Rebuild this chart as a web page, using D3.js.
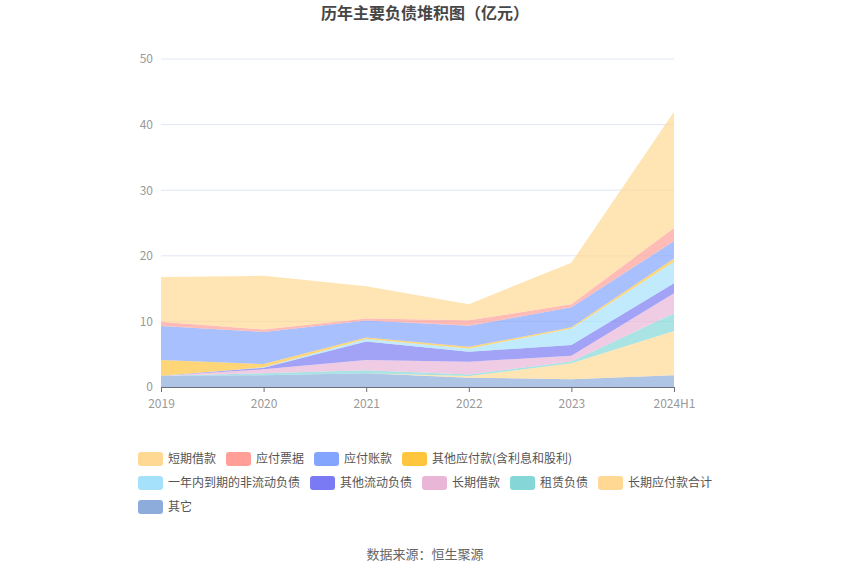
<!DOCTYPE html>
<html>
<head>
<meta charset="utf-8">
<script src="https://cdn.jsdelivr.net/npm/d3@7"></script>
<style>
    body { margin: 0; background: #fff; }
    text { font-family: "Noto Sans CJK SC", "Noto Sans", sans-serif; }
</style>
</head>
<body>
<svg id="chart"></svg>
<script>
// values (亿元)
const years = ["2019", "2020", "2021", "2022", "2023", "2024H1"];
const yTicks = [0, 10, 20, 30, 40, 50];

// legend order (top of stack first)
const seriesNames = ["短期借款", "应付票据", "应付账款", "其他应付款(含利息和股利)",
    "一年内到期的非流动负债", "其他流动负债", "长期借款", "租赁负债", "长期应付款合计", "其它"];
const seriesColors = ["#ffd894", "#ff9f97", "#84a5fd", "#ffc53d",
    "#a6e1fb", "#7a7bf4", "#e9b6d8", "#85d7d7", "#ffd894", "#8dacdb"];

const shortLoan     = [6.8, 8.2, 4.9, 2.45, 6.35, 17.7];
const notesPayable  = [0.65, 0.35, 0.3, 0.85, 0.45, 2.0];
const accPayable    = [5.2, 4.9, 2.6, 3.2, 3.05, 2.65];
const otherPayable  = [2.4, 0.5, 0.25, 0.25, 0.2, 0.5];
const dueInOneYear  = [0, 0.05, 0.35, 0.5, 2.5, 3.3];
const otherCurrent  = [0, 0.25, 2.85, 1.52, 1.63, 1.52];
const longLoan      = [0, 0.6, 1.55, 1.93, 0.9, 3.05];
const leaseLiab     = [0, 0.3, 0.45, 0.25, 0.25, 2.7];
const longPayable   = [0, 0, 0, 0.25, 2.45, 6.75];
const others        = [1.7, 1.8, 2.1, 1.42, 1.17, 1.78];

const seriesValues = [shortLoan, notesPayable, accPayable, otherPayable, dueInOneYear,
    otherCurrent, longLoan, leaseLiab, longPayable, others];

class StackedArea {
    margin = { top: 59, right: 176, bottom: 188, left: 161 }

    constructor(svg, width = 850, height = 575) {
        this.svg = svg;
        this.width = width;
        this.height = height;
    }

    initialize() {
        this.svg = d3.select(this.svg)
            .attr("width", this.width)
            .attr("height", this.height);
        this.innerW = this.width - this.margin.left - this.margin.right;
        this.innerH = this.height - this.margin.top - this.margin.bottom;

        this.grid = this.svg.append("g").attr("transform", `translate(${this.margin.left}, ${this.margin.top})`);
        this.container = this.svg.append("g").attr("transform", `translate(${this.margin.left}, ${this.margin.top})`);
        this.xAxis = this.svg.append("g").attr("transform", `translate(${this.margin.left}, ${this.margin.top + this.innerH})`);
        this.yAxis = this.svg.append("g").attr("transform", `translate(${this.margin.left}, ${this.margin.top})`);
        this.legend = this.svg.append("g");

        this.xScale = d3.scalePoint().domain(years).range([0, this.innerW]);
        this.yScale = d3.scaleLinear().domain([0, 50]).range([this.innerH, 0]);
    }

    update() {
        // rows for d3.stack, bottom series first
        const rows = years.map((y, i) => {
            const row = { year: y };
            seriesNames.forEach((n, k) => row[n] = seriesValues[k][i]);
            return row;
        });
        const keys = seriesNames.slice().reverse();
        const stacked = d3.stack().keys(keys)(rows);
        const color = d3.scaleOrdinal().domain(seriesNames).range(seriesColors);

        this.title();

        this.grid.selectAll("line")
            .data(yTicks)
            .join("line")
            .attr("x1", 0).attr("x2", this.innerW)
            .attr("y1", d => this.yScale(d)).attr("y2", d => this.yScale(d))
            .attr("stroke", "#e0e6f1");

        const area = d3.area()
            .x(d => this.xScale(d.data.year))
            .y0(d => this.yScale(d[0]))
            .y1(d => this.yScale(d[1]));

        this.container.selectAll("path")
            .data(stacked)
            .join("path")
            .attr("fill", d => color(d.key))
            .attr("fill-opacity", 0.7)
            .attr("d", area);

        this.yAxis.call(d3.axisLeft(this.yScale).tickValues(yTicks).tickSize(0).tickPadding(8));
        this.yAxis.select(".domain").remove();
        this.yAxis.selectAll("text").attr("fill", "#999").style("font-size", "12px");

        this.xAxis.call(d3.axisBottom(this.xScale).tickSize(5).tickPadding(7));
        this.xAxis.select(".domain").attr("stroke", "#6e7079");
        this.xAxis.selectAll("line").attr("stroke", "#6e7079");
        this.xAxis.selectAll("text").attr("fill", "#999").style("font-size", "12px");

        this.drawLegend(color);

        this.svg.append("text")
            .attr("x", this.width / 2).attr("y", 559)
            .attr("text-anchor", "middle")
            .attr("fill", "#666")
            .style("font-size", "13px")
            .text("数据来源：恒生聚源");
    }

    title() {
        this.svg.append("text")
            .attr("x", this.width / 2).attr("y", 19)
            .attr("text-anchor", "middle")
            .attr("fill", "#464646")
            .style("font-size", "16px")
            .style("font-weight", "bold")
            .text("历年主要负债堆积图（亿元）");
    }

    drawLegend(color) {
        const left = 138, right = 735, rowH = 24, top = 459;
        let x = left, y = top;
        seriesNames.forEach(name => {
            const g = this.legend.append("g");
            const t = g.append("text")
                .attr("x", 30).attr("y", 0)
                .attr("dy", "0.35em")
                .attr("fill", "#555")
                .style("font-size", "12px")
                .text(name);
            const w = 30 + t.node().getComputedTextLength();
            if (x + w > right && x > left) { x = left; y += rowH; }
            g.attr("transform", `translate(${x}, ${y})`);
            g.insert("rect", "text")
                .attr("x", 0).attr("y", -7)
                .attr("width", 25).attr("height", 14)
                .attr("rx", 3)
                .attr("fill", color(name));
            x += w + 10;
        });
    }
}

const chart = new StackedArea("#chart");
chart.initialize();
chart.update();
</script>
</body>
</html>
